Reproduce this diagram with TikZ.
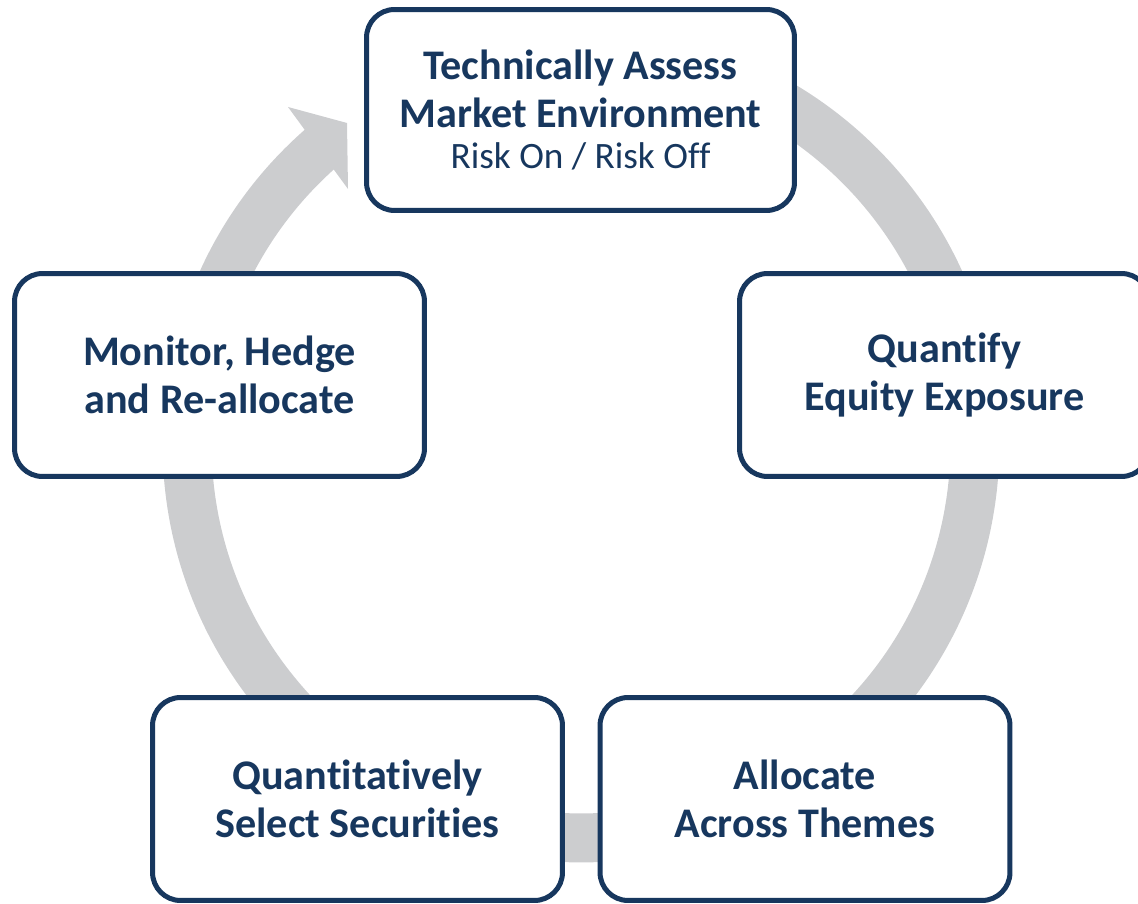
\documentclass[tikz,border=0pt]{standalone}
\usepackage{fontspec}
\setmainfont[Ligatures=NoCommon]{Carlito}
\definecolor{navy}{HTML}{17375E}
\definecolor{ringgray}{HTML}{CCCDCF}
\begin{document}
\begin{tikzpicture}[x=0.02cm,y=0.02cm,
  stepbox/.style={draw=navy, line width=0.1cm, fill=white, rounded corners=0.56cm,
    minimum width=8.2cm, minimum height=4.06cm, align=center, text=navy,
    font=\fontsize{24}{27.3}\selectfont\bfseries, inner sep=0pt},
  ring/.style={draw=ringgray, line width=0.98cm}]
\useasboundingbox (0,0) rectangle (1138,903);
\clip (0,0) rectangle (1138,903);
\coordinate (c) at (581,459);
% circular arrow
\draw[ring] (c) ++(130:7.88cm) arc[start angle=130, end angle=445, radius=7.88cm];
\fill[ringgray] (288,796) -- (347,780) -- (348,714) -- cycle;
% boxes
\node[stepbox, minimum width=8.56cm, minimum height=4.02cm] (assess) at (580.5,793)
  {Technically Assess\\Market Environment\\[-3.5pt]{\fontsize{21.2}{24}\selectfont\mdseries Risk On / Risk Off}};
\node[stepbox] (quantify) at (944.5,528) {Quantify\\Equity Exposure};
\node[stepbox] (allocate) at (805,104) {Allocate\\Across Themes};
\node[stepbox] (select) at (357.5,104) {Quantitatively\\Select Securities};
\node[stepbox] (monitor) at (219.5,528) {Monitor, Hedge\\and Re-allocate};
\end{tikzpicture}
\end{document}
